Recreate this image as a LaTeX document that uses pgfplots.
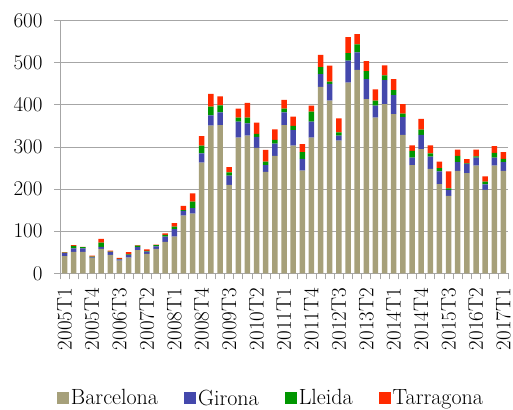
\documentclass[border=0pt]{standalone}
\usepackage{fontspec}
\usepackage{pgfplots}
\usepackage{pgfplotstable}
\pgfplotsset{compat=1.18}
\definecolor{cB}{HTML}{A6A07A}
\definecolor{cG}{HTML}{4448AC}
\definecolor{cL}{HTML}{009600}
\definecolor{cT}{HTML}{FF2A00}
\definecolor{gridc}{HTML}{A6A6A6}
\pgfplotstableread{
x B G L T
1 41 7 1 1
2 51 8 6 2
3 51 8 3 0.5
4 36 2 1.5 2.5
5 58 5 10 9
6 43.5 6.5 1.5 2.5
7 30 3 1 2.5
8 37 6.5 1.5 5
9 55 7 3.5 1.5
10 46 5.5 1.5 4
11 58 6 3 1
12 74.5 12.5 4 4
13 87 18 6 8
14 137 11 2 10
15 142 13 15 20
16 263 22 18 23
17 351 24 21 30
18 352 30 17 21
19 210 22 8 12
20 322 38 10 21
21 327 29 14 35
22 298 26 7 27
23 241 16 8 28
24 279 29 9 25
25 352 30 9 21
26 303 37 10 22
27 244 28 16 19
28 322 38 24 14
29 443 30 17 29
30 410 40 5 38
31 315 12 8 33
32 453 52 18 38
33 483 42 19 24
34 414 47 19 24
35 370 28 12 27
36 402 57 11 24
37 378 45 12 26
38 329 42 8 23
39 257 18 16 13
40 295 34 12 26
41 248 29 8 19
42 212 30 8 15
43 184 14 4 40
44 243 21 15 15
45 238 22 1 10
46 256 19 3 16
47 198 13 7 12
48 256 19 11 16
49 243 21 8 16
}\data
\begin{document}
\begin{tikzpicture}
\begin{axis}[
  at={(60pt,135.7pt)}, anchor=south west,
  scale only axis, width=448pt, height=252.6pt,
  ybar stacked, bar width=5.5pt,
  xmin=0.5, xmax=49.5, ymin=0, ymax=600,
  axis lines*=left,
  axis line style={gridc, line width=1pt},
  ytick={0,100,...,600},
  ymajorgrids, grid style={gridc, line width=1pt},
  xtick={1,4,...,49},
  xticklabels={2005T1,2005T4,2006T3,2007T2,2008T1,2008T4,2009T3,2010T2,2011T1,2011T4,2012T3,2013T2,2014T1,2014T4,2015T3,2016T2,2017T1},
  minor xtick={0.5,1.5,...,49.5},
  tick align=outside,
  major tick length=6pt, minor tick length=6pt,
  major x tick style={draw=none},
  tick style={gridc, line width=1pt},
  /pgf/number format/assume math mode=true,
  tick label style={font=\fontsize{21}{21}\selectfont},
  x tick label style={rotate=90, anchor=east},
  xticklabel shift=5pt,
  yticklabel shift=8pt,
  legend columns=4,
  legend style={draw=none, fill=none, at={(0.471,-0.494)}, anchor=center,
    font=\fontsize{22}{22}\selectfont,
    /tikz/every even column/.append style={column sep=24pt}},
  legend image code/.code={\fill[#1] (0pt,-6pt) rectangle (12pt,6pt);},
]
\addplot[fill=cB, draw=none] table[x=x, y=B] {\data};
\addplot[fill=cG, draw=none] table[x=x, y=G] {\data};
\addplot[fill=cL, draw=none] table[x=x, y=L] {\data};
\addplot[fill=cT, draw=none] table[x=x, y=T] {\data};
\legend{Barcelona, Girona, Lleida, Tarragona}
\end{axis}
\pgfresetboundingbox
\path[use as bounding box] (0,0) rectangle (513pt,409pt);
\end{tikzpicture}
\end{document}
